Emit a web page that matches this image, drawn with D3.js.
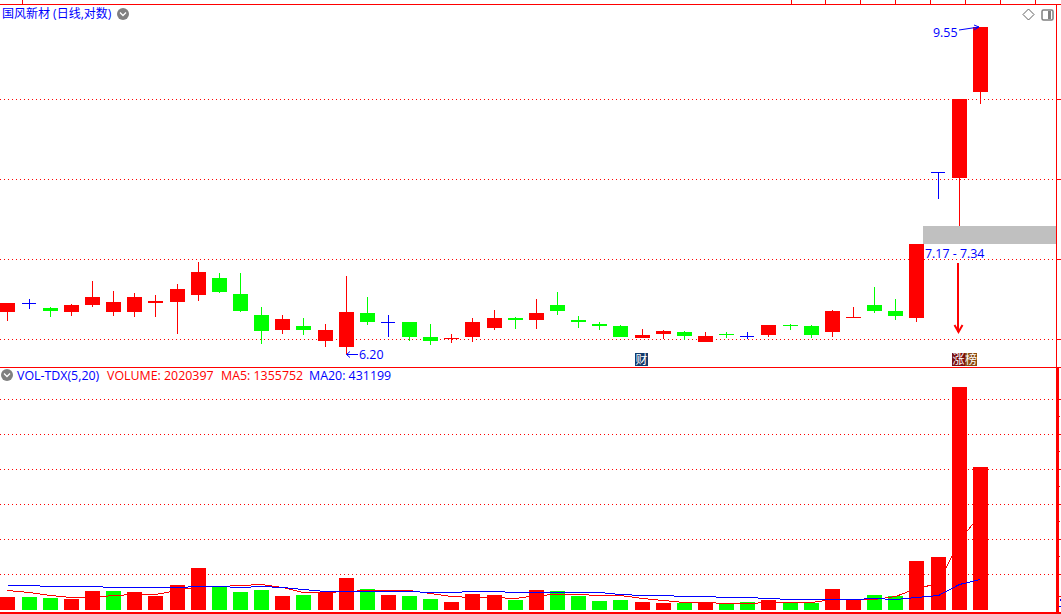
<!DOCTYPE html>
<html><head><meta charset="utf-8">
<script src="https://cdn.jsdelivr.net/npm/d3@7"></script>
<style>html,body{margin:0;padding:0;background:#fff;overflow:hidden}svg{display:block}
text{font-family:"Open Sans","Noto Sans CJK SC",sans-serif;font-size:12.4px}
text.cjk{font-size:12px}</style>
</head><body><svg id="c" width="1061" height="614"></svg>
<script>
const opens=[6.555,6.63,6.59,6.555,6.615,6.555,6.555,6.63,6.64,6.705,6.855,6.71,6.53,6.40,6.435,6.31,6.26,6.545,6.47,6.47,6.34,6.325,6.34,6.42,6.50,6.485,6.615,6.485,6.45,6.435,6.33,6.37,6.38,6.30,6.37,6.35,6.355,6.44,6.435,6.38,6.50,6.615,6.565,6.50,7.89,7.82,8.76];
const closes=[6.63,6.63,6.565,6.615,6.685,6.64,6.685,6.65,6.76,6.91,6.73,6.565,6.39,6.495,6.40,6.40,6.555,6.47,6.47,6.34,6.31,6.33,6.47,6.50,6.485,6.545,6.565,6.47,6.435,6.34,6.355,6.39,6.35,6.35,6.355,6.35,6.44,6.435,6.355,6.565,6.51,6.565,6.52,7.17,7.89,8.68,9.55];
const highs=[6.63,6.67,6.60,6.625,6.83,6.735,6.72,6.705,6.80,7.00,6.90,6.90,6.60,6.53,6.50,6.45,6.87,6.685,6.53,6.47,6.45,6.37,6.50,6.57,6.51,6.67,6.73,6.52,6.47,6.44,6.41,6.40,6.39,6.38,6.38,6.38,6.44,6.45,6.44,6.57,6.60,6.775,6.67,7.17,7.89,8.68,9.55];
const lows=[6.48,6.58,6.51,6.52,6.60,6.52,6.51,6.51,6.37,6.65,6.72,6.555,6.28,6.37,6.355,6.26,6.20,6.44,6.34,6.31,6.275,6.29,6.30,6.40,6.41,6.41,6.53,6.42,6.40,6.34,6.33,6.325,6.316,6.30,6.33,6.325,6.34,6.40,6.33,6.34,6.50,6.545,6.485,6.47,7.61,7.34,8.63];
const volumes=[183700,183700,169500,155400,268400,268400,254300,197800,353200,593400,324900,254300,282600,197800,211900,240200,452100,296700,211900,197800,155400,113000,226000,211900,141300,282600,268400,197800,127200,141300,113000,98900,98900,113000,84800,113000,141300,98900,98900,296700,155400,211900,197800,692300,748800,3150500,2020397];
const volColors=["r","g","g","r","r","g","r","r","r","r","g","g","g","r","g","r","r","g","r","g","g","r","r","r","g","r","g","g","g","g","r","r","g","r","g","g","r","g","g","r","r","g","g","r","r","r","r"];
const ma5=[278000,250000,212000,179000,188000,208000,222000,222000,278000,335000,339000,349000,363000,321000,250000,250000,264000,278000,278000,278000,236000,194000,179000,179000,165000,208000,222000,222000,208000,208000,165000,137000,109000,109000,95000,95000,109000,109000,109000,151000,151000,151000,198000,307000,377000,989000,1355752];
const ma20=[349000,349000,335000,335000,335000,321000,321000,321000,321000,335000,335000,321000,335000,321000,292000,264000,264000,264000,264000,264000,260000,250000,264000,264000,250000,250000,250000,250000,250000,222000,208000,208000,194000,194000,179000,179000,165000,151000,151000,151000,151000,165000,151000,179000,208000,363000,431199];
const priceGrid=[8.68,7.81,7.025,6.318];
const volGrid=[508600,1003000,1497600,1992000,2486500,2981000];
const volMinor=[755000,1250000,1745000,2239000,2734000];
const gapLow=7.17,gapHigh=7.34;
const title="国风新材 (日线,对数)";
const indicatorLabels=[["VOL-TDX(5,20)","#0000ff"],["VOLUME: 2020397","#ff0000"],["MA5: 1355752","#ff0000"],["MA20: 431199","#0000ff"]];

const RED="#ff0000",GREEN="#00ff00",BLUE="#0000ff";
const svg=d3.select("#c");
const idx=d3.range(opens.length);
const x=d3.scaleLinear().domain([0,46]).range([7.91,980.35]);
const left=i=>Math.round(x(i)-7.5);
const cx=i=>left(i)+7.5;
const y=d3.scaleLog().domain([9.55,6.20]).range([27,354]);
const v=d3.scaleLinear().domain([0,2020397]).range([610,467]);

// frame
const frame=svg.append("g").attr("stroke",RED).attr("fill","none").attr("shape-rendering","crispEdges");
frame.append("path").attr("d","M0 4.5H1061M0 367.5H1061M1056.5 4.5V367");
frame.selectAll(".tt").data([22,791,825,860,895,930,965,1000,1035]).enter().append("path").attr("d",d=>`M${d+.5} 0V4`);
svg.append("rect").attr("x",0).attr("y",612).attr("width",1061).attr("height",2).attr("fill",RED);
svg.append("rect").attr("x",1056).attr("y",367).attr("width",3).attr("height",246).attr("fill",RED);
// grid
const gridDash="1 3";
const crisp=s=>s.attr("shape-rendering","crispEdges").attr("stroke",RED);
crisp(svg.append("g").selectAll("path").data(priceGrid).enter().append("path")
 .attr("d",d=>`M0 ${Math.floor(y(d))+.5}H1056`).attr("stroke-dasharray",gridDash));
crisp(svg.append("g").selectAll("path").data(volGrid).enter().append("path")
 .attr("d",d=>`M0 ${Math.floor(v(d))+.5}H1054`).attr("stroke-dasharray",gridDash));
crisp(svg.append("g").selectAll("path").data(priceGrid).enter().append("path")
 .attr("d",d=>`M1057 ${Math.floor(y(d))+.5}H1061`));
crisp(svg.append("g").selectAll("path").data(volGrid).enter().append("path")
 .attr("d",d=>`M1059 ${Math.floor(v(d))+.5}H1061`));
crisp(svg.append("g").selectAll("path").data(volMinor).enter().append("path")
 .attr("d",d=>`M1059 ${Math.floor(v(d))+.5}H1060`));
crisp(svg.append("path").attr("d","M1059 596.5H1061"));
svg.append("rect").attr("x",1060).attr("y",599).attr("width",1).attr("height",2).attr("fill",BLUE);
svg.append("rect").attr("x",1059).attr("y",606).attr("width",2).attr("height",1).attr("fill",BLUE);
// gap band
svg.append("rect").attr("x",923).attr("width",133).attr("y",Math.round(y(gapHigh))).attr("height",Math.round(y(gapLow))-Math.round(y(gapHigh))).attr("fill","#c0c0c0");
// candles
const col=i=>closes[i]>opens[i]?RED:closes[i]<opens[i]?GREEN:BLUE;
const g=svg.append("g").attr("shape-rendering","crispEdges");
g.selectAll(".w").data(idx).enter().append("path").attr("d",i=>`M${cx(i)} ${Math.round(y(highs[i]))}V${Math.round(y(lows[i]))}`).attr("stroke",col);
g.selectAll(".b").data(idx).enter().append("rect")
 .attr("x",i=>left(i)).attr("width",i=>closes[i]===opens[i]?14:15)
 .attr("y",i=>Math.round(y(Math.max(opens[i],closes[i]))))
 .attr("height",i=>Math.max(1,Math.round(y(Math.min(opens[i],closes[i])))-Math.round(y(Math.max(opens[i],closes[i])))))
 .attr("fill",col);
// volume
const vg=svg.append("g").attr("shape-rendering","crispEdges");
vg.selectAll("rect").data(idx).enter().append("rect")
 .attr("x",i=>left(i)).attr("width",15).attr("y",i=>v(volumes[i])).attr("height",i=>v(0)-v(volumes[i]))
 .attr("fill",i=>volColors[i]==="r"?RED:GREEN);
const line=d3.line().x((d,i)=>cx(i)).y(d=>Math.round(v(d))+.5);
svg.append("path").datum(ma5).attr("d",line).attr("fill","none").attr("stroke",RED).attr("shape-rendering","crispEdges");
svg.append("path").datum(ma20).attr("d",line).attr("fill","none").attr("stroke",BLUE).attr("shape-rendering","crispEdges");
// labels
svg.append("text").attr("class","cjk").attr("x",2).attr("y",18).attr("fill",BLUE).text(title);
const lx=[17,107,221,309];
indicatorLabels.forEach((d,i)=>svg.append("text").attr("x",lx[i]).attr("y",380).attr("fill",d[1]).text(d[0]));
function chevron(cx0,cy0){svg.append("circle").attr("cx",cx0).attr("cy",cy0).attr("r",6).attr("fill","#808080");
 svg.append("path").attr("d",`M${cx0-3} ${cy0-1.5}L${cx0} ${cy0+1.5}L${cx0+3} ${cy0-1.5}`).attr("stroke","#fff").attr("stroke-width",1.3).attr("fill","none");}
chevron(123,14);chevron(7,375);
// annotations
svg.append("text").attr("x",933).attr("y",37).attr("fill",BLUE).text("9.55");
svg.append("path").attr("d",`M959 30L979 27M974 25L979 27L974 30`).attr("stroke",BLUE).attr("fill","none");
svg.append("text").attr("x",359).attr("y",359).attr("fill",BLUE).text("6.20");
svg.append("path").attr("d",`M358 354.5H346.5M350 351.5L346.5 354.5L350 357.5`).attr("stroke",BLUE).attr("fill","none");
svg.append("text").attr("x",925).attr("y",258).attr("fill",BLUE).text("7.17 - 7.34");
svg.append("path").attr("d","M958 263V332").attr("stroke",RED).attr("stroke-width",2);
svg.append("path").attr("d","M954.5 325L958.5 332L962.5 325").attr("stroke",RED).attr("stroke-width",2).attr("fill","none");
// badges
function badge(x0,y0,w,ch,bg){svg.append("rect").attr("x",x0).attr("y",y0).attr("width",w).attr("height",13).attr("fill",bg);
 svg.append("text").attr("class","cjk").attr("x",x0+w/2).attr("y",y0+11).attr("text-anchor","middle").attr("fill","#fff").text(ch);}
badge(635,353,13,"财","#123a6b");badge(952,353,13,"涨","#7a0f0f");badge(965,353,12,"榜","#8a4a10");
// top-right icons
svg.append("path").attr("d","M1028.5 9L1034 14.5L1028.5 20L1023 14.5Z").attr("fill","none").attr("stroke","#606060");
svg.append("rect").attr("x",1042).attr("y",10).attr("width",11).attr("height",10).attr("rx",1.5).attr("fill","#fff").attr("stroke","#808080").attr("stroke-width",1.5);
svg.append("rect").attr("x",1048).attr("y",11).attr("width",3).attr("height",8).attr("fill","#808080");
</script></body></html>
